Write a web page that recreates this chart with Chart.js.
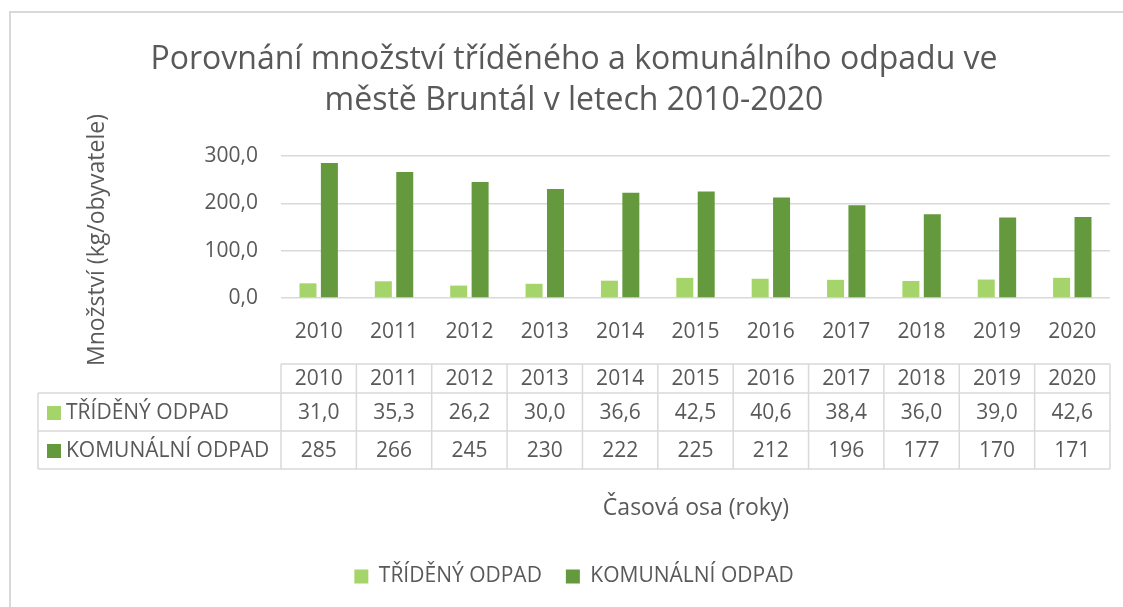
<!DOCTYPE html>
<html lang="cs">
<head>
<meta charset="UTF-8">
<title>Porovnání množství tříděného a komunálního odpadu</title>
<script src="https://cdn.jsdelivr.net/npm/chart.js@4/dist/chart.umd.min.js"></script>
<style>
  html, body { margin: 0; padding: 0; background: #fff; }
  #wrap { width: 1123px; height: 607px; }
</style>
</head>
<body>
<div id="wrap"><canvas id="odpad"></canvas></div>
<script>
// data z grafu
const roky = ['2010', '2011', '2012', '2013', '2014', '2015', '2016', '2017', '2018', '2019', '2020'];
const trideny = [31.0, 35.3, 26.2, 30.0, 36.6, 42.5, 40.6, 38.4, 36.0, 39.0, 42.6];
const komunalni = [285, 266, 245, 230, 222, 225, 212, 196, 177, 170, 171];
const yTicky = [0, 100, 200, 300];

const barvaTrideny = '#a5d46a';
const barvaKomunalni = '#64993d';
const sedaText = '#595959';
const sedaCara = '#d9d9d9';
const pismo = '"Open Sans", sans-serif';

function carka(v, des) {
    return v.toFixed(des).replace('.', ',');
}

// ramecek, popisky os a tabulka dat pod grafem
const tabulkaPlugin = {
    id: 'tabulka',
    beforeDraw(chart) {
        const ctx = chart.ctx;
        ctx.save();
        ctx.strokeStyle = sedaCara;
        ctx.lineWidth = 2;
        ctx.beginPath();
        ctx.moveTo(10, chart.height);
        ctx.lineTo(10, 12);
        ctx.lineTo(chart.width, 12);
        ctx.stroke();
        ctx.restore();
    },
    afterDraw(chart) {
        const ctx = chart.ctx;
        const xs = chart.scales.x;
        const half = (xs.getPixelForValue(1) - xs.getPixelForValue(0)) / 2;
        const radky = [364, 393, 431, 469];
        const levo = 38;

        ctx.save();
        // popisek osy y
        ctx.fillStyle = sedaText;
        ctx.font = '23px ' + pismo;
        ctx.textAlign = 'center';
        ctx.textBaseline = 'middle';
        ctx.save();
        ctx.translate(97, 240);
        ctx.rotate(-Math.PI / 2);
        ctx.fillText('Množství (kg/obyvatele)', 0, 0);
        ctx.restore();

        // popisek osy x
        ctx.fillText('Časová osa (roky)', 696, 508);

        // cary tabulky
        ctx.strokeStyle = sedaCara;
        ctx.lineWidth = 1.5;
        ctx.beginPath();
        ctx.moveTo(xs.left, radky[0]);
        ctx.lineTo(xs.right, radky[0]);
        for (let r = 1; r < radky.length; r++) {
            ctx.moveTo(levo, radky[r]);
            ctx.lineTo(xs.right, radky[r]);
        }
        ctx.moveTo(levo, radky[1]);
        ctx.lineTo(levo, radky[3]);
        for (let i = 0; i <= roky.length; i++) {
            const x = xs.getPixelForValue(i) - half;
            ctx.moveTo(x, radky[0]);
            ctx.lineTo(x, radky[3]);
        }
        ctx.stroke();

        // texty v tabulce
        const radkyDat = [
            { label: chart.data.datasets[0].label, barva: barvaTrideny, hodnoty: trideny.map(v => carka(v, 1)) },
            { label: chart.data.datasets[1].label, barva: barvaKomunalni, hodnoty: komunalni.map(v => carka(v, 0)) }
        ];
        ctx.font = '21px ' + pismo;
        ctx.fillStyle = sedaText;
        ctx.textAlign = 'center';
        roky.forEach((rok, i) => {
            ctx.fillText(rok, xs.getPixelForValue(i), (radky[0] + radky[1]) / 2 + 1);
        });
        radkyDat.forEach((rd, r) => {
            const yc = (radky[r + 1] + radky[r + 2]) / 2 + 1;
            ctx.fillStyle = rd.barva;
            ctx.fillRect(47, yc - 7, 14, 14);
            ctx.fillStyle = sedaText;
            ctx.textAlign = 'left';
            ctx.fillText(rd.label, 66, yc);
            ctx.textAlign = 'center';
            rd.hodnoty.forEach((h, i) => {
                ctx.fillText(h, xs.getPixelForValue(i), yc);
            });
        });
        ctx.restore();
    }
};

const ctx = document.getElementById('odpad').getContext('2d');
const chart = new Chart(ctx, {
    type: 'bar',
    data: {
        labels: roky,
        datasets: [
            {
                label: 'TŘÍDĚNÝ ODPAD',
                data: trideny,
                backgroundColor: barvaTrideny,
                categoryPercentage: 0.568,
                barPercentage: 0.794
            },
            {
                label: 'KOMUNÁLNÍ ODPAD',
                data: komunalni,
                backgroundColor: barvaKomunalni,
                categoryPercentage: 0.568,
                barPercentage: 0.794
            }
        ]
    },
    options: {
        responsive: true,
        maintainAspectRatio: false,
        animation: false,
        layout: { padding: { left: 25, top: 11, right: 0, bottom: 10 } },
        scales: {
            x: {
                grid: { display: false, drawTicks: false },
                border: { display: false },
                ticks: { color: sedaText, font: { family: pismo, size: 21 }, padding: 21 },
                afterFit(s) { s.height = 244; }
            },
            y: {
                min: 0,
                max: 300,
                afterBuildTicks(s) { s.ticks = yTicky.map(v => ({ value: v })); },
                grid: { color: sedaCara, lineWidth: 1.5, drawTicks: false },
                border: { display: false },
                ticks: {
                    color: sedaText,
                    font: { family: pismo, size: 21 },
                    padding: 23,
                    callback: v => carka(v, 1)
                },
                afterFit(s) { s.width = 256; }
            },
            // prazdny prostor vpravo, aby titulek a legenda byly na stredu jako v Excelu
            mezera: {
                position: 'right',
                display: true,
                grid: { display: false },
                border: { display: false },
                ticks: { display: false },
                afterFit(s) { s.width = 13; }
            }
        },
        plugins: {
            title: {
                display: true,
                text: ['Porovnání množství tříděného a komunálního odpadu ve', 'městě Bruntál v letech 2010-2020'],
                color: sedaText,
                font: { family: pismo, size: 32, weight: 'normal', lineHeight: 1.28 },
                padding: { top: 28, bottom: 35 }
            },
            legend: {
                position: 'bottom',
                labels: {
                    color: sedaText,
                    font: { family: pismo, size: 21 },
                    boxWidth: 14,
                    boxHeight: 14,
                    padding: 24
                }
            },
            tooltip: { enabled: false }
        }
    },
    plugins: [tabulkaPlugin]
});
</script>
</body>
</html>
